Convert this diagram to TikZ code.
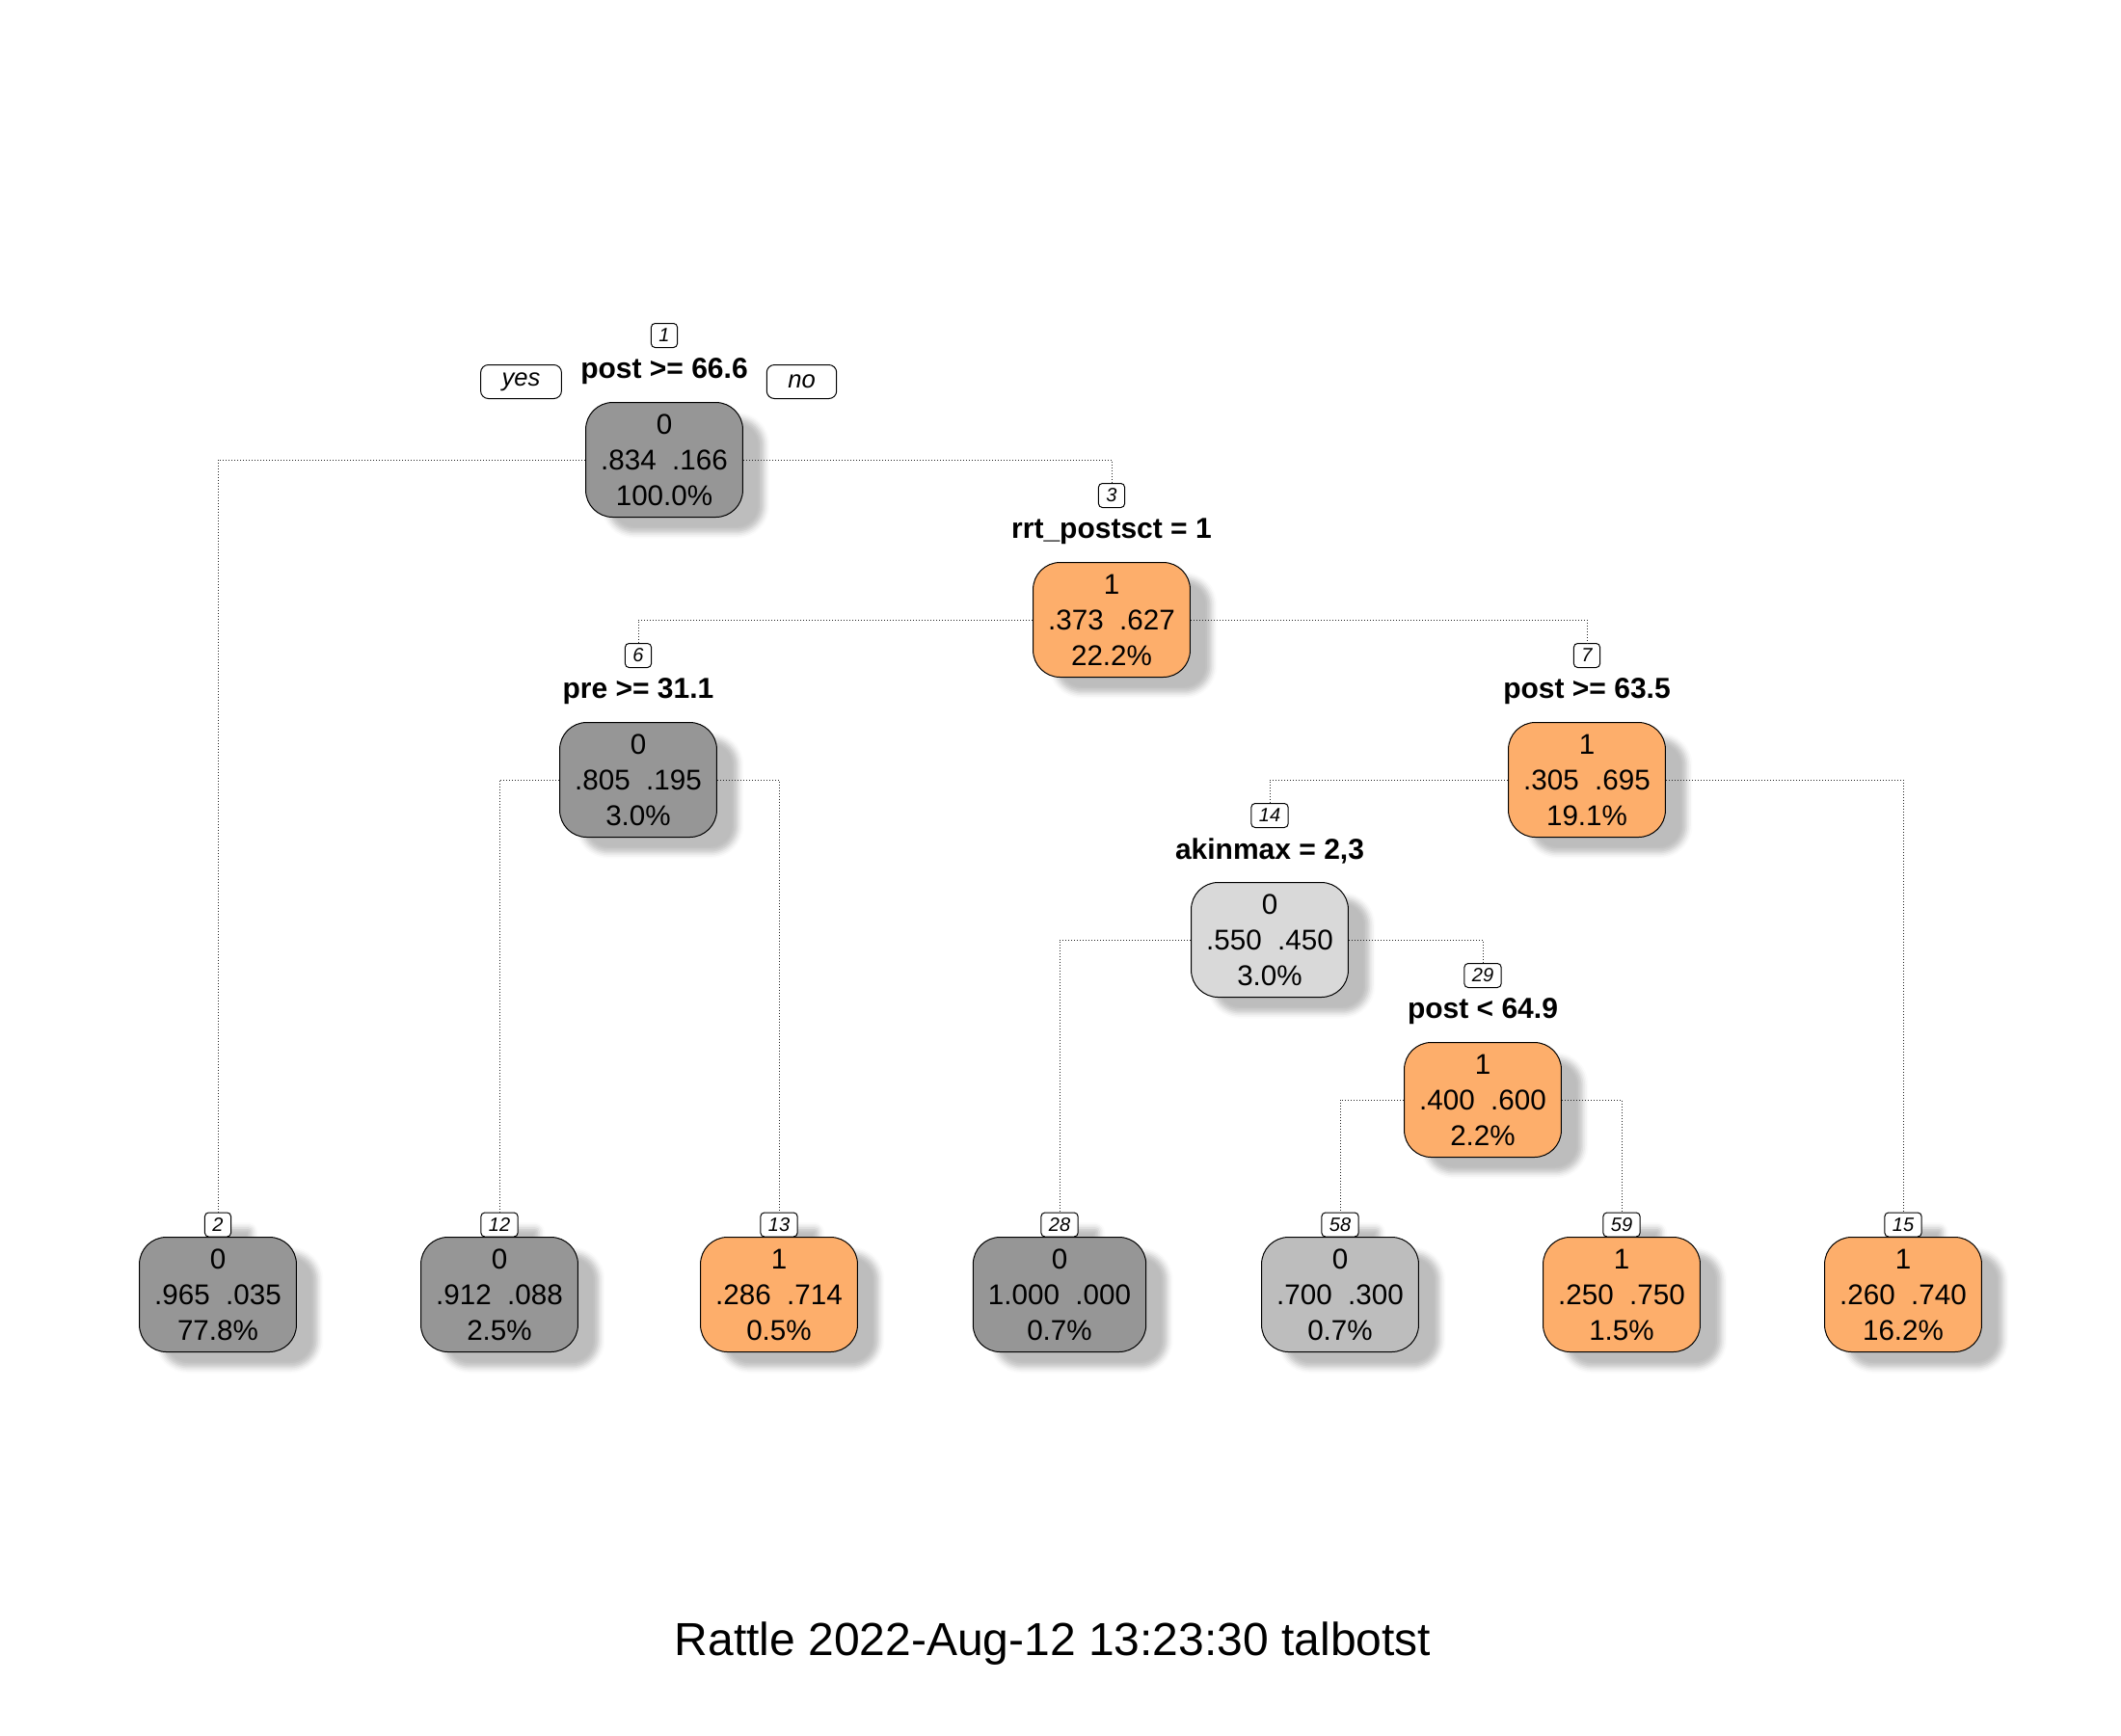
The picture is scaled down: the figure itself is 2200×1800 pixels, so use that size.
\documentclass[tikz,border=0pt]{standalone}
\usepackage{fontspec}
\setmainfont{Liberation Sans}
\usetikzlibrary{positioning,shadows.blur}

\definecolor{greydark}{HTML}{969696}
\definecolor{greymid}{HTML}{BDBDBD}
\definecolor{greylight}{HTML}{D9D9D9}
\definecolor{orangeleaf}{HTML}{FDAE6B}

\tikzset{
  tnode/.style={draw=black, line width=0.5pt, rounded corners=14pt, align=center,
    inner xsep=7.8pt, inner ysep=0pt, minimum height=59.5pt,
    font=\fontsize{14.8}{18.5}\selectfont,
    blur shadow={shadow xshift=11pt, shadow yshift=-8pt, shadow blur radius=3pt, shadow opacity=26}},
  dark/.style={tnode, fill=greydark},
  mid/.style={tnode, fill=greymid},
  light/.style={tnode, fill=greylight},
  orng/.style={tnode, fill=orangeleaf},
  cond/.style={font=\fontsize{15}{18}\selectfont\bfseries, inner sep=0pt},
  num/.style={draw=black, line width=0.5pt, rounded corners=2pt, fill=white,
    inner xsep=4pt, inner ysep=0pt, minimum height=12.5pt,
    font=\fontsize{10}{12}\selectfont\itshape},
  leafnum/.style={num, blur shadow={shadow xshift=11pt, shadow yshift=-8pt, shadow blur radius=3pt, shadow opacity=26}},
  yesno/.style={draw=black, line width=0.5pt, rounded corners=4pt, inner xsep=11pt,
    inner ysep=0pt, minimum height=17.5pt, font=\fontsize{12.8}{14}\selectfont\itshape},
  link/.style={draw=black!85, line width=0.5pt, dash pattern=on 0.5pt off 1pt}
}

\begin{document}
\begin{tikzpicture}[x=0.5pt, y=-0.5pt]
  \useasboundingbox (0,0) rectangle (2200,1800);

  \node (k1) [num] at (689,348) {1};
  \node (l1) [cond] at (689,385) {post >= 66.6};
  \node (yes) [yesno] at (540.5,396) {yes};
  \node (no) [yesno] at (831.5,396) {no};
  \node (n1) [dark] at (689,477) {0\\.834~~.166\\100.0\%};

  \node (k3) [num] at (1153,514) {3};
  \node (l3) [cond] at (1153,551) {rrt\_postsct = 1};
  \node (n3) [orng] at (1153,643) {1\\.373~~.627\\22.2\%};

  \node (k6) [num] at (662,680) {6};
  \node (l6) [cond] at (662,717) {pre >= 31.1};
  \node (n6) [dark] at (662,809) {0\\.805~~.195\\3.0\%};

  \node (k7) [num] at (1646,680) {7};
  \node (l7) [cond] at (1646,717) {post >= 63.5};
  \node (n7) [orng] at (1646,809) {1\\.305~~.695\\19.1\%};

  \node (k14) [num] at (1317,846) {14};
  \node (l14) [cond] at (1317,883) {akinmax = 2,3};
  \node (n14) [light] at (1317,975) {0\\.550~~.450\\3.0\%};

  \node (k29) [num] at (1538,1012) {29};
  \node (l29) [cond] at (1538,1049) {post < 64.9};
  \node (n29) [orng] at (1538,1141) {1\\.400~~.600\\2.2\%};

  \node (k2) [leafnum] at (226,1270.5) {2};
  \node (k12) [leafnum] at (518,1270.5) {12};
  \node (k13) [leafnum] at (808,1270.5) {13};
  \node (k28) [leafnum] at (1099,1270.5) {28};
  \node (k58) [leafnum] at (1390,1270.5) {58};
  \node (k59) [leafnum] at (1682,1270.5) {59};
  \node (k15) [leafnum] at (1974,1270.5) {15};

  \node (n2) [dark] at (226,1343) {0\\.965~~.035\\77.8\%};
  \node (n12) [dark] at (518,1343) {0\\.912~~.088\\2.5\%};
  \node (n13) [orng] at (808,1343) {1\\.286~~.714\\0.5\%};
  \node (n28) [dark] at (1099,1343) {0\\1.000~~.000\\0.7\%};
  \node (n58) [mid] at (1390,1343) {0\\.700~~.300\\0.7\%};
  \node (n59) [orng] at (1682,1343) {1\\.250~~.750\\1.5\%};
  \node (n15) [orng] at (1974,1343) {1\\.260~~.740\\16.2\%};

  \draw [link] (n1) -| (k2);
  \draw [link] (n1) -| (k3);
  \draw [link] (n3) -| (k6);
  \draw [link] (n3) -| (k7);
  \draw [link] (n6) -| (k12);
  \draw [link] (n6) -| (k13);
  \draw [link] (n7) -| (k14);
  \draw [link] (n7) -| (k15);
  \draw [link] (n14) -| (k28);
  \draw [link] (n14) -| (k29);
  \draw [link] (n29) -| (k58);
  \draw [link] (n29) -| (k59);

  \node (title) at (1092,1705) {\fontsize{24}{28}\selectfont Rattle 2022-Aug-12 13:23:30 talbotst};
\end{tikzpicture}
\end{document}
